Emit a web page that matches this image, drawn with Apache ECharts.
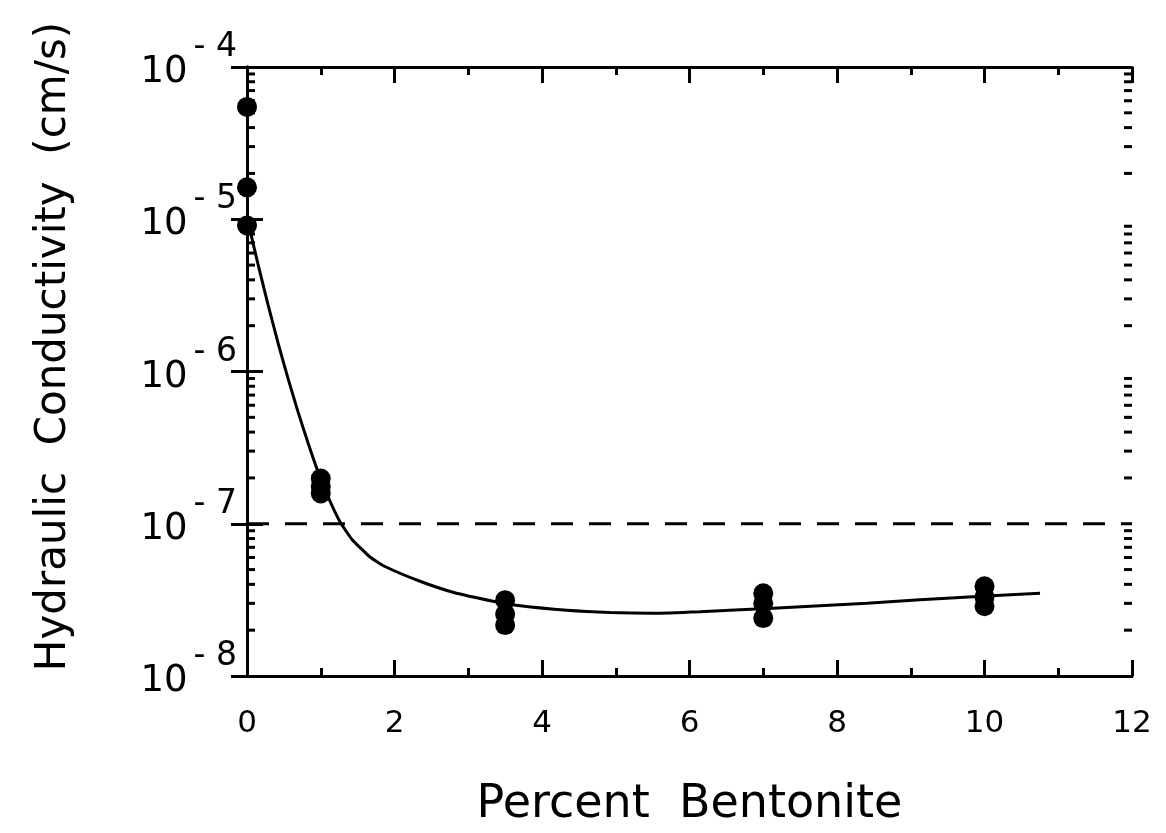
<!DOCTYPE html>
<html>
<head>
<meta charset="utf-8">
<script src="https://cdn.jsdelivr.net/npm/echarts@6/dist/echarts.min.js"></script>
<style>
html,body{margin:0;padding:0;background:#fff;}
#chart{width:1166px;height:833px;}
</style>
</head>
<body>
<div id="chart"></div>
<script>
// ---- data ----
var pointX = [0, 0, 0, 1, 1, 1, 3.5, 3.5, 3.5, 7, 7, 7, 10, 10, 10];
var pointK = [5.47e-5, 1.62e-5, 9.1e-6, 1.98e-7, 1.75e-7, 1.58e-7, 3.15e-8, 2.55e-8, 2.16e-8, 3.49e-8, 3.0e-8, 2.4e-8, 3.88e-8, 3.3e-8, 2.87e-8];

var curveX = [0.014, 0.149, 0.285, 0.420, 0.556, 0.692, 0.827, 0.949, 1.098, 1.261, 1.424, 1.668, 1.871, 2.346, 2.793, 3.336, 3.702, 4.339, 4.922, 5.505, 6.142, 6.685, 7.132, 7.769, 8.407, 9.125, 9.844, 10.753];
var curveK = [9.67e-6, 5.07e-6, 2.75e-6, 1.545e-6, 9.01e-7, 5.43e-7, 3.40e-7, 2.29e-7, 1.51e-7, 1.03e-7, 7.885e-8, 6.05e-8, 5.24e-8, 4.19e-8, 3.55e-8, 3.10e-8, 2.894e-8, 2.705e-8, 2.617e-8, 2.585e-8, 2.645e-8, 2.725e-8, 2.788e-8, 2.894e-8, 3.005e-8, 3.168e-8, 3.315e-8, 3.494e-8];

var limitX = [0, 12];
var limitK = [1e-7, 1e-7];

var xTicks = [0, 2, 4, 6, 8, 10, 12];
var yDecades = [-8, -7, -6, -5, -4];
var minorMultipliers = [2, 3, 4, 5, 6, 7, 8, 9];

var xTitle = 'Percent  Bentonite';
var yTitle = 'Hydraulic  Conductivity  (cm/s)';

// ---- build ----
var pts = pointX.map(function (x, i) { return [x, pointK[i]]; });
var curve = curveX.map(function (x, i) { return [x, curveK[i]]; });
var limit = limitX.map(function (x, i) { return [x, limitK[i]]; });
var minorVals = [];
yDecades.slice(0, -1).forEach(function (d) {
  minorMultipliers.forEach(function (m) { minorVals.push([0, m * Math.pow(10, d)]); });
});

var FONT = 'DejaVu Sans';
var chart = echarts.init(document.getElementById('chart'), null, {renderer: 'canvas'});

var xCommon = {
  type: 'value', min: xTicks[0], max: xTicks[xTicks.length - 1], interval: 2,
  axisLine: {show: true, lineStyle: {color: '#000', width: 3}},
  axisTick: {show: true, inside: true, length: 16, lineStyle: {color: '#000', width: 3}},
  minorTick: {show: true, splitNumber: 2, length: 8, lineStyle: {color: '#000', width: 3}},
  splitLine: {show: false}, minorSplitLine: {show: false}
};
var yCommon = {
  type: 'log', logBase: 10, min: 1e-8, max: 1e-4,
  axisLine: {show: true, lineStyle: {color: '#000', width: 3}},
  axisTick: {show: true, inside: true, length: 16, lineStyle: {color: '#000', width: 3}},
  splitLine: {show: false}
};

var option = {
  backgroundColor: '#fff',
  animation: false,
  grid: {left: 247, right: 34, top: 67, bottom: 155},
  xAxis: [
    Object.assign({}, xCommon, {
      position: 'bottom',
      name: xTitle, nameLocation: 'middle', nameGap: 106,
      nameTextStyle: {fontFamily: FONT, fontSize: 46, color: '#000'},
      axisLabel: {show: true, fontFamily: FONT, fontSize: 31, color: '#000', margin: 32}
    }),
    Object.assign({}, xCommon, {position: 'top', axisLabel: {show: false}})
  ],
  yAxis: [
    Object.assign({}, yCommon, {
      position: 'left',
      name: yTitle, nameLocation: 'middle', nameGap: 172, nameRotate: 90,
      nameTextStyle: {fontFamily: FONT, fontSize: 42, color: '#000', padding: [0, 0, 0, 50]},
      axisLabel: {
        show: true, margin: 10, color: '#000', padding: [0, 0, 12, 0],
        formatter: function (v) {
          var e = Math.round(Math.log10(v));
          return '{b|10}{s|- ' + (-e) + '}';
        },
        rich: {
          b: {fontFamily: FONT, fontSize: 37, color: '#000', verticalAlign: 'bottom', lineHeight: 60},
          s: {fontFamily: FONT, fontSize: 33, color: '#000', verticalAlign: 'top', lineHeight: 20, padding: [0, 0, 0, 6]}
        }
      }
    }),
    Object.assign({}, yCommon, {position: 'right', axisLabel: {show: false}})
  ],
  series: [
    {
      type: 'custom', name: 'minorY', xAxisIndex: 0, yAxisIndex: 0, silent: true, clip: false,
      data: minorVals,
      renderItem: function (params, api) {
        var y = api.coord([0, api.value(1)])[1];
        var cs = params.coordSys;
        var st = {stroke: '#000', lineWidth: 3};
        return {type: 'group', children: [
          {type: 'line', shape: {x1: cs.x, y1: y, x2: cs.x + 8, y2: y}, style: st},
          {type: 'line', shape: {x1: cs.x + cs.width, y1: y, x2: cs.x + cs.width - 8, y2: y}, style: st}
        ]};
      }
    },
    {
      type: 'line', name: 'limit', data: limit, showSymbol: false, silent: true,
      lineStyle: {color: '#000', width: 3, type: [22, 16]}
    },
    {
      type: 'line', name: 'fit', data: curve, smooth: 0.15, showSymbol: false, silent: true,
      lineStyle: {color: '#000', width: 3}
    },
    {
      type: 'scatter', name: 'data', data: pts, symbol: 'circle', symbolSize: 20,
      itemStyle: {color: '#000', opacity: 1}, silent: true, clip: false
    }
  ]
};
chart.setOption(option);
</script>
</body>
</html>
